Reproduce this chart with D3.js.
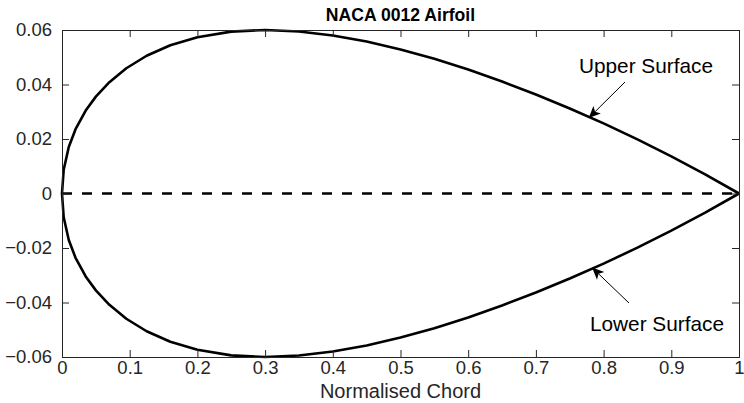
<!DOCTYPE html>
<html>
<head>
<meta charset="utf-8" />
<style>
  body { margin: 0; background: #fff; }
  svg { display: block; font-family: "Liberation Sans", Arial, Helvetica, sans-serif; }
</style>
</head>
<body>
<svg id="chart"></svg>
<script src="https://d3js.org/d3.v7.min.js"></script>
<script>
  // chordwise stations and half thickness of the section (upper = +, lower = -)
  const chord = [0, 0.0025, 0.01, 0.02, 0.035, 0.05, 0.07, 0.095, 0.125, 0.16, 0.2, 0.25,
    0.3, 0.35, 0.4, 0.45, 0.5, 0.55, 0.6, 0.65, 0.7, 0.75, 0.8, 0.85, 0.9, 0.95, 1];
  const upper = [0, 0.00872, 0.01704, 0.0236, 0.03043, 0.03555, 0.04086, 0.04596, 0.05055,
    0.05442, 0.05737, 0.05941, 0.06001, 0.05947, 0.058, 0.05576, 0.05286, 0.04941, 0.04547,
    0.0411, 0.03634, 0.03121, 0.02572, 0.01987, 0.01365, 0.00704, 0];
  const lower = [0, -0.00872, -0.01704, -0.0236, -0.03043, -0.03555, -0.04086, -0.04596, -0.05055,
    -0.05442, -0.05737, -0.05941, -0.06001, -0.05947, -0.058, -0.05576, -0.05286, -0.04941, -0.04547,
    -0.0411, -0.03634, -0.03121, -0.02572, -0.01987, -0.01365, -0.00704, 0];
  const xTicks = [0, 0.1, 0.2, 0.3, 0.4, 0.5, 0.6, 0.7, 0.8, 0.9, 1];
  const yTicks = [-0.06, -0.04, -0.02, 0, 0.02, 0.04, 0.06];

  const width = 744;
  const height = 403;
  const marginTop = 30;
  const marginRight = 5;
  const marginBottom = 46;
  const marginLeft = 62;
  const axisColor = "#262626";
  const tickLen = 7;

  const svg = d3.select("#chart")
    .attr("width", width)
    .attr("height", height)
    .attr("viewBox", [0, 0, width, height]);

  const x = d3.scaleLinear().domain([0, 1]).range([marginLeft, width - marginRight]);
  const y = d3.scaleLinear().domain([-0.06, 0.06]).range([height - marginBottom, marginTop]);

  // dashed chord line
  svg.append("line")
    .attr("x1", x(0)).attr("x2", x(1))
    .attr("y1", y(0)).attr("y2", y(0))
    .attr("stroke", "#000")
    .attr("stroke-width", 2.5)
    .attr("stroke-dasharray", "10,10");

  // airfoil outline
  const line = d3.line().x(d => x(d[0])).y(d => y(d[1]));
  const outline = chord.map((c, i) => [c, upper[i]]).reverse()
    .concat(chord.map((c, i) => [c, lower[i]]).slice(1));
  svg.append("path")
    .attr("d", line(outline))
    .attr("fill", "none")
    .attr("stroke", "#000")
    .attr("stroke-width", 2.6)
    .attr("stroke-linejoin", "round");

  // axes, ticks pointing inward, box all round
  const fmt = d => d3.format("")(+d.toFixed(2));
  svg.append("g")
    .attr("transform", `translate(0,${y(-0.06)})`)
    .call(d3.axisBottom(x).tickValues(xTicks).tickSize(-tickLen).tickPadding(4).tickFormat(fmt));
  svg.append("g")
    .attr("transform", `translate(0,${y(0.06)})`)
    .call(d3.axisTop(x).tickValues(xTicks).tickSize(-tickLen).tickFormat(""));
  svg.append("g")
    .attr("transform", `translate(${x(0)},0)`)
    .call(d3.axisLeft(y).tickValues(yTicks).tickSize(-tickLen).tickPadding(10).tickFormat(fmt));
  svg.append("g")
    .attr("transform", `translate(${x(1)},0)`)
    .call(d3.axisRight(y).tickValues(yTicks).tickSize(-tickLen).tickFormat(""));

  svg.selectAll(".domain, .tick line").attr("stroke", axisColor).attr("stroke-width", 1);
  svg.selectAll(".tick text")
    .attr("fill", axisColor)
    .attr("font-family", "Liberation Sans, Arial, sans-serif")
    .attr("font-size", 18.5);

  // title and x label
  svg.append("text")
    .attr("x", (x(0) + x(1)) / 2).attr("y", 21)
    .attr("text-anchor", "middle")
    .attr("font-weight", "bold")
    .attr("font-size", 17.6)
    .attr("fill", "#000")
    .text("NACA 0012 Airfoil");
  svg.append("text")
    .attr("x", (x(0) + x(1)) / 2).attr("y", 398)
    .attr("text-anchor", "middle")
    .attr("font-size", 20)
    .attr("fill", axisColor)
    .text("Normalised Chord");

  // annotations
  const notes = [
    { label: "Upper Surface", tx: 646, ty: 73, from: [625, 82], to: [0.778, 0.0277] },
    { label: "Lower Surface", tx: 657, ty: 331, from: [629, 303], to: [0.783, -0.0272] }
  ];
  notes.forEach(n => {
    const x1 = n.from[0], y1 = n.from[1];
    const x2 = x(n.to[0]), y2 = y(n.to[1]);
    const ang = Math.atan2(y2 - y1, x2 - x1);
    const len = 13, half = 0.42, back = 9;
    const p = (a, r) => [x2 - r * Math.cos(a), y2 - r * Math.sin(a)];
    svg.append("line")
      .attr("x1", x1).attr("y1", y1)
      .attr("x2", p(ang, back)[0]).attr("y2", p(ang, back)[1])
      .attr("stroke", "#000").attr("stroke-width", 1);
    svg.append("path")
      .attr("d", d3.line()([[x2, y2], p(ang + half, len), p(ang, back), p(ang - half, len)]) + "Z")
      .attr("fill", "#000");
    svg.append("text")
      .attr("x", n.tx).attr("y", n.ty)
      .attr("text-anchor", "middle")
      .attr("font-size", 20.8)
      .attr("fill", "#000")
      .text(n.label);
  });
</script>
</body>
</html>
